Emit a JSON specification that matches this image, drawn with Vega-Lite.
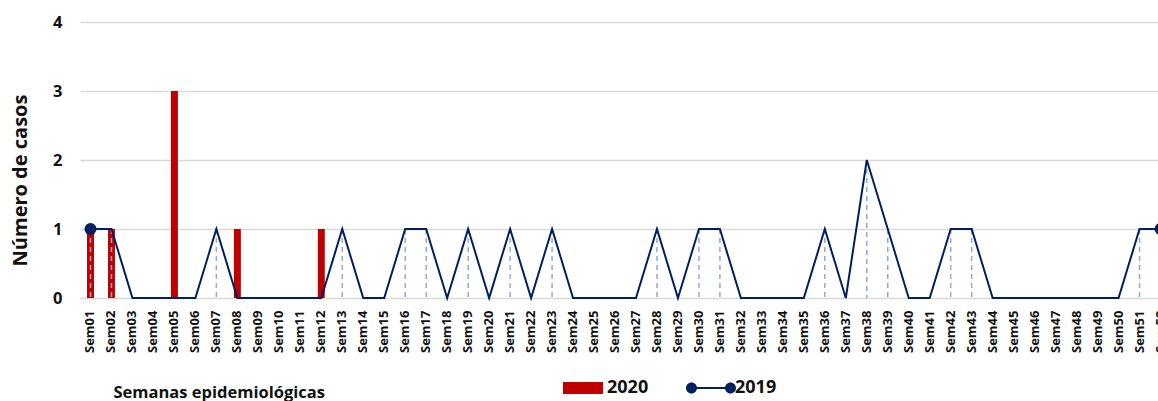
{
  "$schema": "https://vega.github.io/schema/vega-lite/v6.json",
  "width": 1091,
  "height": 276,
  "autosize": "none",
  "padding": {"left": 80, "top": 22, "right": 0, "bottom": 103},
  "background": "white",
  "config": {"view": {"stroke": null}, "font": "Open Sans"},
  "data": {"values": [
    {"semana": "Sem01", "anio": "2020", "casos": 1},
    {"semana": "Sem02", "anio": "2020", "casos": 1},
    {"semana": "Sem03", "anio": "2020", "casos": 0},
    {"semana": "Sem04", "anio": "2020", "casos": 0},
    {"semana": "Sem05", "anio": "2020", "casos": 3},
    {"semana": "Sem06", "anio": "2020", "casos": 0},
    {"semana": "Sem07", "anio": "2020", "casos": 0},
    {"semana": "Sem08", "anio": "2020", "casos": 1},
    {"semana": "Sem09", "anio": "2020", "casos": 0},
    {"semana": "Sem10", "anio": "2020", "casos": 0},
    {"semana": "Sem11", "anio": "2020", "casos": 0},
    {"semana": "Sem12", "anio": "2020", "casos": 1},
    {"semana": "Sem01", "anio": "2019", "casos": 1},
    {"semana": "Sem02", "anio": "2019", "casos": 1},
    {"semana": "Sem03", "anio": "2019", "casos": 0},
    {"semana": "Sem04", "anio": "2019", "casos": 0},
    {"semana": "Sem05", "anio": "2019", "casos": 0},
    {"semana": "Sem06", "anio": "2019", "casos": 0},
    {"semana": "Sem07", "anio": "2019", "casos": 1},
    {"semana": "Sem08", "anio": "2019", "casos": 0},
    {"semana": "Sem09", "anio": "2019", "casos": 0},
    {"semana": "Sem10", "anio": "2019", "casos": 0},
    {"semana": "Sem11", "anio": "2019", "casos": 0},
    {"semana": "Sem12", "anio": "2019", "casos": 0},
    {"semana": "Sem13", "anio": "2019", "casos": 1},
    {"semana": "Sem14", "anio": "2019", "casos": 0},
    {"semana": "Sem15", "anio": "2019", "casos": 0},
    {"semana": "Sem16", "anio": "2019", "casos": 1},
    {"semana": "Sem17", "anio": "2019", "casos": 1},
    {"semana": "Sem18", "anio": "2019", "casos": 0},
    {"semana": "Sem19", "anio": "2019", "casos": 1},
    {"semana": "Sem20", "anio": "2019", "casos": 0},
    {"semana": "Sem21", "anio": "2019", "casos": 1},
    {"semana": "Sem22", "anio": "2019", "casos": 0},
    {"semana": "Sem23", "anio": "2019", "casos": 1},
    {"semana": "Sem24", "anio": "2019", "casos": 0},
    {"semana": "Sem25", "anio": "2019", "casos": 0},
    {"semana": "Sem26", "anio": "2019", "casos": 0},
    {"semana": "Sem27", "anio": "2019", "casos": 0},
    {"semana": "Sem28", "anio": "2019", "casos": 1},
    {"semana": "Sem29", "anio": "2019", "casos": 0},
    {"semana": "Sem30", "anio": "2019", "casos": 1},
    {"semana": "Sem31", "anio": "2019", "casos": 1},
    {"semana": "Sem32", "anio": "2019", "casos": 0},
    {"semana": "Sem33", "anio": "2019", "casos": 0},
    {"semana": "Sem34", "anio": "2019", "casos": 0},
    {"semana": "Sem35", "anio": "2019", "casos": 0},
    {"semana": "Sem36", "anio": "2019", "casos": 1},
    {"semana": "Sem37", "anio": "2019", "casos": 0},
    {"semana": "Sem38", "anio": "2019", "casos": 2},
    {"semana": "Sem39", "anio": "2019", "casos": 1},
    {"semana": "Sem40", "anio": "2019", "casos": 0},
    {"semana": "Sem41", "anio": "2019", "casos": 0},
    {"semana": "Sem42", "anio": "2019", "casos": 1},
    {"semana": "Sem43", "anio": "2019", "casos": 1},
    {"semana": "Sem44", "anio": "2019", "casos": 0},
    {"semana": "Sem45", "anio": "2019", "casos": 0},
    {"semana": "Sem46", "anio": "2019", "casos": 0},
    {"semana": "Sem47", "anio": "2019", "casos": 0},
    {"semana": "Sem48", "anio": "2019", "casos": 0},
    {"semana": "Sem49", "anio": "2019", "casos": 0},
    {"semana": "Sem50", "anio": "2019", "casos": 0},
    {"semana": "Sem51", "anio": "2019", "casos": 1},
    {"semana": "Sem52", "anio": "2019", "casos": 1}
  ]},
  "encoding": {
    "x": {
      "field": "semana", "type": "nominal", "sort": "ascending",
      "scale": {"paddingInner": 0, "paddingOuter": 0},
      "axis": {
        "title": "Semanas epidemiológicas",
        "labelAngle": -90, "labelFontSize": 13, "labelFontWeight": "bold", "labelColor": "#111111",
        "labelPadding": 12, "domain": false, "ticks": false,
        "titleX": 33, "titleY": 99, "titleAlign": "left", "titleAnchor": "start", "titleBaseline": "alphabetic",
        "titleFontSize": 16.5, "titleFontWeight": "bold", "titleColor": "#111111"
      }
    },
    "y": {
      "field": "casos", "type": "quantitative",
      "scale": {"domain": [0, 4], "nice": false},
      "axis": {
        "title": "Número de casos", "values": [0, 1, 2, 3, 4],
        "grid": true, "gridColor": "#d9d9d9", "gridWidth": 1.5,
        "domain": false, "ticks": false,
        "labelFontSize": 16.5, "labelFontWeight": "bold", "labelColor": "#111111", "labelPadding": 18,
        "titleFontSize": 20, "titleFontWeight": "bold", "titleColor": "#111111",
        "titleX": -60, "titleY": 158, "titleAlign": "center", "titleBaseline": "middle", "titleAngle": -90
      }
    }
  },
  "layer": [
    {
      "transform": [{"filter": "datum.anio == '2020'"}],
      "mark": {"type": "bar", "width": 7},
      "encoding": {
        "color": {
          "field": "anio", "type": "nominal",
          "scale": {"domain": ["2020", "2019"], "range": ["#c00000", "#002060"]},
          "legend": {
            "title": null, "orient": "none", "direction": "horizontal",
            "legendX": 478, "legendY": 341,
            "symbolSize": 2500, "labelFontSize": 18, "labelFontWeight": "bold", "labelColor": "#111111",
            "labelOffset": -1, "columnPadding": 36,
            "encode": {
              "symbols": {
                "update": {
                  "shape": {"signal": "datum.value === '2020' ? 'M-0.8,-0.24H0.8V0.24H-0.8Z' : 'M-1,0A0.22,0.22 0 1,1 -0.56,0A0.22,0.22 0 1,1 -1,0Z M0.56,0A0.22,0.22 0 1,1 1,0A0.22,0.22 0 1,1 0.56,0Z M-0.78,-0.04H0.78V0.04H-0.78Z'"},
                  "fill": {"signal": "datum.value === '2020' ? '#c00000' : '#002060'"},
                  "stroke": {"value": "transparent"},
                  "strokeWidth": {"value": 0},
                  "opacity": {"value": 1}
                }
              }
            }
          }
        }
      }
    },
    {
      "transform": [{"filter": "datum.anio == '2019' && datum.casos > 0"}],
      "mark": {"type": "rule", "strokeDash": [5, 4], "color": "#8eaadb", "strokeWidth": 1.5},
      "encoding": {"y2": {"datum": 0}}
    },
    {
      "transform": [{"filter": "datum.anio == '2019'"}],
      "mark": {"type": "line", "strokeWidth": 2},
      "encoding": {"color": {"field": "anio", "type": "nominal"}}
    },
    {
      "transform": [{"filter": "datum.anio == '2019' && (datum.semana == 'Sem01' || datum.semana == 'Sem52')"}],
      "mark": {"type": "point", "filled": true, "size": 144, "opacity": 1},
      "encoding": {"color": {"field": "anio", "type": "nominal"}}
    }
  ]
}
